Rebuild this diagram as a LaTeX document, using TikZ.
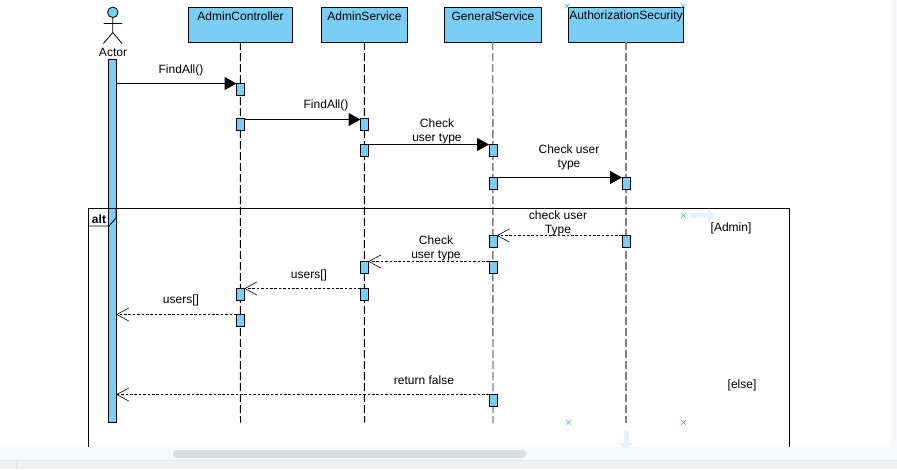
\documentclass[tikz,border=0pt]{standalone}
\usepackage{fontspec}
\setmainfont{Liberation Sans}
\usetikzlibrary{arrows.meta}
\definecolor{fillblue}{HTML}{7ACEF4}
\definecolor{ghost}{HTML}{E1F4FD}
\definecolor{ghostfaint}{HTML}{F0F9FE}
\definecolor{markblue}{HTML}{35B5EC}
\definecolor{greyline}{HTML}{808080}
\definecolor{panel}{HTML}{F7F8FA}
\definecolor{panelb}{HTML}{F0F1F3}
\definecolor{panelline}{HTML}{E3E4E6}
\definecolor{thumb}{HTML}{DCDDE0}
\tikzset{
  every node/.style={font=\fontsize{12}{14}\selectfont,text=black,inner sep=0pt,outer sep=0pt},
  label/.style={align=center},
  objbox/.style={draw=black,line width=1pt,fill=fillblue,minimum height=34.5pt,anchor=north west},
  act/.style={draw=black,line width=1pt,fill=fillblue,minimum width=8pt,minimum height=12pt},
  lifeblack/.style={draw=black,line width=1pt,dash pattern=on 8pt off 3pt},
  lifegrey/.style={draw=greyline,line width=1.4pt,dash pattern=on 8pt off 3pt},
  callmsg/.style={draw=black,line width=1pt,-{Triangle[length=12pt,width=13pt]}},
  retmsg/.style={draw=black,line width=0.8pt,dash pattern=on 2.6pt off 1.8pt,-{Straight Barb[length=12pt,width=13pt,line width=0.6pt,round=false]}},
  xmark/.style={draw=markblue,line width=0.6pt},
  ghostarrow/.style={draw=ghost,line width=5pt,-{Triangle[length=7pt,width=14pt]}},
}
\begin{document}
\begin{tikzpicture}[x=1pt,y=-1pt]
\useasboundingbox (0,0) rectangle (897,469);
\fill[white] (0,0) rectangle (897,469);
% window chrome
\fill[panel] (0,447) rectangle (897,460);
\fill[panel] (891,0) rectangle (897,447);
\fill[panelb] (0,460) rectangle (897,469);
\draw[panelline,line width=0.8pt] (0,460.5) -- (897,460.5);
\draw[panelline,line width=0.8pt] (16.5,460.5) -- (16.5,469);
\fill[thumb,rounded corners=3.5pt] (173,450) rectangle (526,458);

% object boxes
\node[objbox,minimum width=103.5pt] (ctrl) at (188.5,7.5) {};
\node[objbox,minimum width=85.5pt] (svc) at (321.5,7.5) {};
\node[objbox,minimum width=97.5pt] (gen) at (444,7.5) {};
\node[objbox,minimum width=115pt] (auth) at (568.5,7.5) {};
\node[label] (ctrlt) at (240.5,16) {AdminController};
\node[label] (svct) at (364.5,16) {AdminService};
\node[label] (gent) at (493,16) {GeneralService};
\node[label] (autht) at (626,16) {AuthorizationSecurity};

% lifelines
\coordinate (ctrlend) at (240.5,422.5);
\coordinate (svcend) at (364.5,422.5);
\coordinate (genend) at (493,423);
\coordinate (authend) at (626,423);
\draw[lifeblack] (ctrl.south) -- (ctrlend);
\draw[lifeblack] (svc.south) -- (svcend);
\draw[lifegrey] (gen.south) -- (genend);
\draw[lifegrey] (auth.south) -- (authend);

% actor
\node[circle,draw=black,line width=0.8pt,fill=fillblue,minimum size=10.5pt] (head) at (112.8,12.3) {};
\coordinate (hip) at (112.8,32.5);
\coordinate (armL) at (103.5,23.5);
\coordinate (armR) at (122,23.5);
\coordinate (legL) at (103.5,43.5);
\coordinate (legR) at (122,43.5);
\draw[black,line width=0.8pt] (head.south) -- (hip) (armL) -- (armR) (legL) -- (hip) -- (legR);
\node[label] (actor) at (113,52) {Actor};
\node[draw=black,line width=1pt,fill=fillblue,minimum width=8pt,minimum height=363pt,anchor=north] (bar) at (112.5,59.5) {};

% activations
\node[act] (c1) at (240.5,89.5) {};
\node[act] (c2) at (240.5,124.5) {};
\node[act] (s1) at (364.5,124.5) {};
\node[act] (s2) at (364.5,150.5) {};
\node[act] (g1) at (493,150.5) {};
\node[act] (g2) at (493,183.5) {};
\node[act] (a1) at (626,183.5) {};
\node[act] (a2) at (626,241.5) {};
\node[act] (g3) at (493,241.5) {};
\node[act] (g4) at (493,267.5) {};
\node[act] (s3) at (364.5,267.5) {};
\node[act] (s4) at (364.5,294.5) {};
\node[act] (c3) at (240.5,294.5) {};
\node[act] (c4) at (240.5,320.5) {};
\node[act] (g5) at (493,400.5) {};

% calls
\draw[callmsg] (bar.east |- c1.north west) -- (c1.north west);
\draw[callmsg] ([yshift=-1pt]c2.north east) -- ([yshift=-1pt]s1.north west);
\draw[callmsg] (s2.north east) -- (g1.north west);
\draw[callmsg] (g2.north east) -- (a1.north west);
% returns
\draw[retmsg] (a2.north west) -- (g3.north east);
\draw[retmsg] (g4.north west) -- (s3.north east);
\draw[retmsg] (s4.north west) -- (c3.north east);
\draw[retmsg] (c4.north west) -- (bar.east |- c4.north west);
\draw[retmsg] (g5.north west) -- (bar.east |- g5.north west);

% frame
\coordinate (fTL) at (88.5,208.5);
\coordinate (fTR) at (789.5,208.5);
\coordinate (fBL) at (88.5,447);
\coordinate (fBR) at (789.5,447);
\draw[black,line width=1pt] (fBL) -- (fTL) -- (fTR) -- (fBR);
\coordinate (tabA) at (88.5,226);
\coordinate (tabB) at (109,226);
\coordinate (tabC) at (116,218);
\coordinate (tabD) at (116,208.5);
\draw[black,line width=0.8pt] (tabA) -- (tabB) -- (tabC) -- (tabD);
\node[font=\fontsize{12}{14}\selectfont\bfseries] (alt) at (99,219) {alt};

% ghost handles under the labels
\coordinate (ge) at (554,215.5);
\coordinate (gf) at (538,215.5);
\draw[ghostarrow,draw=ghostfaint] (ge) -- (gf);
\coordinate (ga) at (691,215.5);
\coordinate (gb) at (715,215.5);
\draw[ghostarrow] (ga) -- (gb);
\coordinate (gc) at (626,431);
\coordinate (gd) at (626,447);
\begin{scope}
\clip (600,425) rectangle (650,447);
\draw[ghostarrow] (gc) -- ([yshift=-3pt]gd);
\end{scope}

% message labels
\node[label] (m1) at (181,70) {FindAll()};
\node[label] (m2) at (326,105) {FindAll()};
\node[label] (m3) at (437,131) {Check\\user type};
\node[label] (m4) at (569,157) {Check user\\type};
\node[label] (m5) at (558,223) {check user\\Type};
\node[label] (m6) at (436,248) {Check\\user type};
\node[label] (m7) at (309,275) {users[]};
\node[label] (m8) at (181,300) {users[]};
\node[label] (m9) at (424,380) {return false};
\node[label] (g1t) at (731,228) {[Admin]};
\node[label] (g2t) at (742,385) {[else]};

% editor handles
\foreach \n/\mx/\my in {h1/567/6,h2/683/6,h3/683.5/215.5,h4/568.5/422.5,h5/683.5/422.5}{
  \coordinate (\n) at (\mx,\my);
  \draw[xmark] ([xshift=-2.5pt,yshift=-2.5pt]\n) -- ([xshift=2.5pt,yshift=2.5pt]\n)
               ([xshift=-2.5pt,yshift=2.5pt]\n) -- ([xshift=2.5pt,yshift=-2.5pt]\n);
}
\end{tikzpicture}
\end{document}
